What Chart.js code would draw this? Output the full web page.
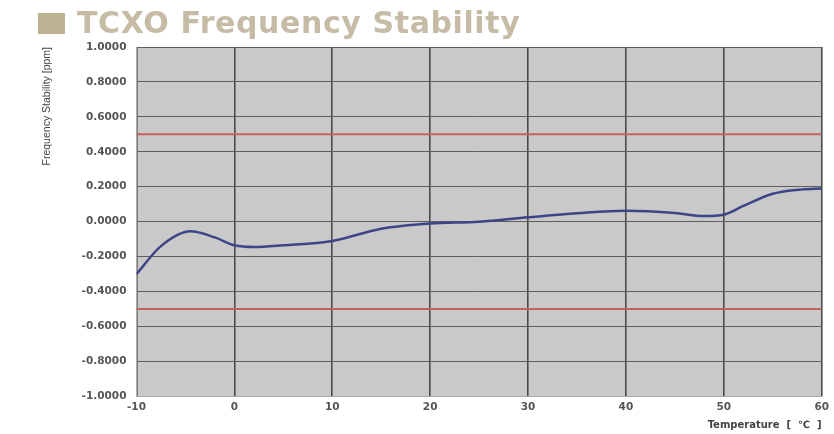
<!DOCTYPE html>
<html>
<head>
<meta charset="utf-8">
<script src="https://cdn.jsdelivr.net/npm/chart.js@4/dist/chart.umd.min.js"></script>
<style>
  html, body { margin: 0; padding: 0; background: #fff; }
  #wrap { position: relative; width: 834px; height: 434px; }
  #title {
    position: absolute; left: 38px; top: 5px;
    font: bold 30px "DejaVu Sans", sans-serif;
    color: #c6bca6; letter-spacing: 0.6px; white-space: nowrap;
  }
  #title span {
    display: inline-block; width: 27px; height: 21px; background: #bdb294;
    margin-right: 12px; vertical-align: -1px;
  }
</style>
</head>
<body>
<div id="wrap">
  <canvas id="chart" width="834" height="434"></canvas>
  <div id="title"><span></span>TCXO Frequency Stability</div>
</div>
<script>
// temperature (°C) and measured stability (ppm)
var temps = [-10, -7.5, -4.5, -2, 0, 2, 5, 10, 15, 20, 25, 30, 35, 40, 45, 48, 50, 52, 55, 58, 60];
var stability = [-0.30, -0.14, -0.055, -0.09, -0.135, -0.145, -0.135, -0.11, -0.04, -0.01, 0.0, 0.025, 0.048, 0.063, 0.05, 0.032, 0.04, 0.09, 0.16, 0.185, 0.19];
var upperLimit = 0.5;
var lowerLimit = -0.5;
var xTicks = [-10, 0, 10, 20, 30, 40, 50, 60];

var curve = temps.map(function(t, i) { return {x: t, y: stability[i]}; });

var plotBg = {
  id: 'plotBg',
  beforeDraw: function(chart) {
    var a = chart.chartArea, ctx = chart.ctx;
    ctx.save();
    ctx.fillStyle = '#c9c9c9';
    ctx.fillRect(a.left, a.top, a.right - a.left, a.bottom - a.top);
    ctx.restore();
  }
};

var tickFont = {family: '"DejaVu Sans", sans-serif', size: 10.5, weight: 'bold'};

var myChart = new Chart(document.getElementById('chart').getContext('2d'), {
  type: 'line',
  data: {
    datasets: [{
      label: 'upper',
      data: [{x: -10, y: upperLimit}, {x: 60, y: upperLimit}],
      borderColor: '#c4625c',
      borderWidth: 2,
      pointRadius: 0
    }, {
      label: 'lower',
      data: [{x: -10, y: lowerLimit}, {x: 60, y: lowerLimit}],
      borderColor: '#c4625c',
      borderWidth: 2,
      pointRadius: 0
    }, {
      label: 'stability',
      data: curve,
      borderColor: '#3d4488',
      borderWidth: 2.5,
      pointRadius: 0,
      cubicInterpolationMode: 'monotone'
    }]
  },
  plugins: [plotBg],
  options: {
    responsive: false,
    animation: false,
    layout: {padding: {top: 47, right: 4, left: 41, bottom: 3}},
    plugins: {legend: {display: false}, tooltip: {enabled: false}},
    scales: {
      x: {
        type: 'linear',
        min: -10, max: 60,
        afterBuildTicks: function(s) { s.ticks = xTicks.map(function(v) { return {value: v}; }); },
        grid: {color: '#4a4a4a', lineWidth: 1.6, drawTicks: false},
        border: {color: '#aaa', width: 1},
        ticks: {color: '#555', font: tickFont, padding: 5},
        title: {
          display: true, text: 'Temperature  [  ℃  ]', align: 'end',
          color: '#444', font: {family: '"DejaVu Sans", sans-serif', size: 10, weight: 'bold'},
          padding: {top: 0, bottom: 0}
        }
      },
      y: {
        min: -1, max: 1,
        ticks: {
          stepSize: 0.2, color: '#555', font: tickFont, padding: 10,
          callback: function(v) { return v.toFixed(4); }
        },
        grid: {color: '#5e5e5e', lineWidth: 1, drawTicks: false},
        border: {color: '#aaa', width: 1},
        title: {
          display: true, text: 'Frequency Stability [ppm]', align: 'end',
          color: '#444', font: {family: '"Liberation Sans", Arial, sans-serif', size: 10.5},
          padding: {top: 0, bottom: 18}
        }
      }
    }
  }
});
</script>
</body>
</html>
